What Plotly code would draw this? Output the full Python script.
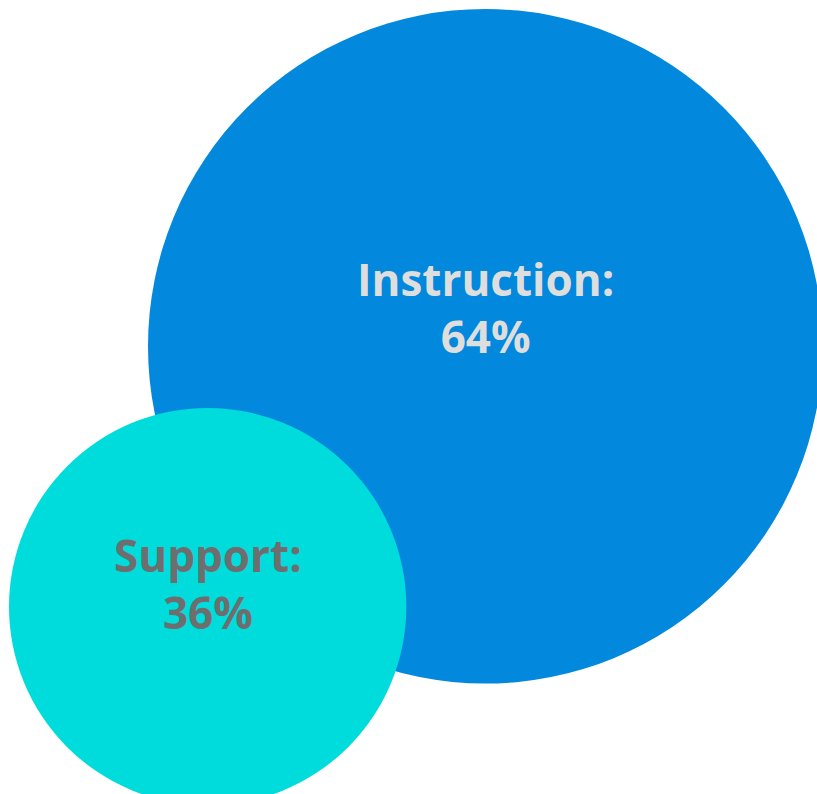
import plotly.graph_objects as go

# Data
categories = ["Instruction", "Support"]
shares = [64, 36]
colors = ["#0288DC", "#00DCDC"]
label_colors = ["#DEDEDE", "#6E6E6E"]

W, H = 817, 794

# bubble radius (px) from share
def radius(v):
    return 5.27 * 64 * (v / 64) ** 0.92

r = [radius(v) for v in shares]
# layout placement (bubble packing offsets)
cx = [148 + r[0], 9 + r[1]]
cy = [9 + r[0], 408 + r[1]]

fig = go.Figure()
fig.add_trace(go.Scatter(
    x=cx, y=cy, mode="markers",
    marker=dict(size=[2 * v for v in r], sizemode="diameter", color=colors,
                opacity=1, line=dict(width=0)),
    cliponaxis=False, hoverinfo="skip", showlegend=False,
))

for i, (c, v) in enumerate(zip(categories, shares)):
    fig.add_annotation(
        x=cx[i], y=cy[i], xref="x", yref="y",
        text=f"<b>{c}:<br>{v}%</b>", showarrow=False,
        yshift=0.115 * r[i],
        font=dict(family="Open Sans, Noto Sans, sans-serif", size=44, color=label_colors[i]),
        align="center",
    )

fig.update_layout(
    width=W, height=H, margin=dict(l=0, r=0, t=0, b=0),
    paper_bgcolor="white", plot_bgcolor="white",
    xaxis=dict(range=[0, W], visible=False, fixedrange=True),
    yaxis=dict(range=[H, 0], visible=False, fixedrange=True),
    hovermode=False,
)

fig.write_html(
    "out.html",
    config={"displayModeBar": False, "staticPlot": True},
    post_script="document.body.style.margin='0';document.body.style.overflow='hidden';",
)
